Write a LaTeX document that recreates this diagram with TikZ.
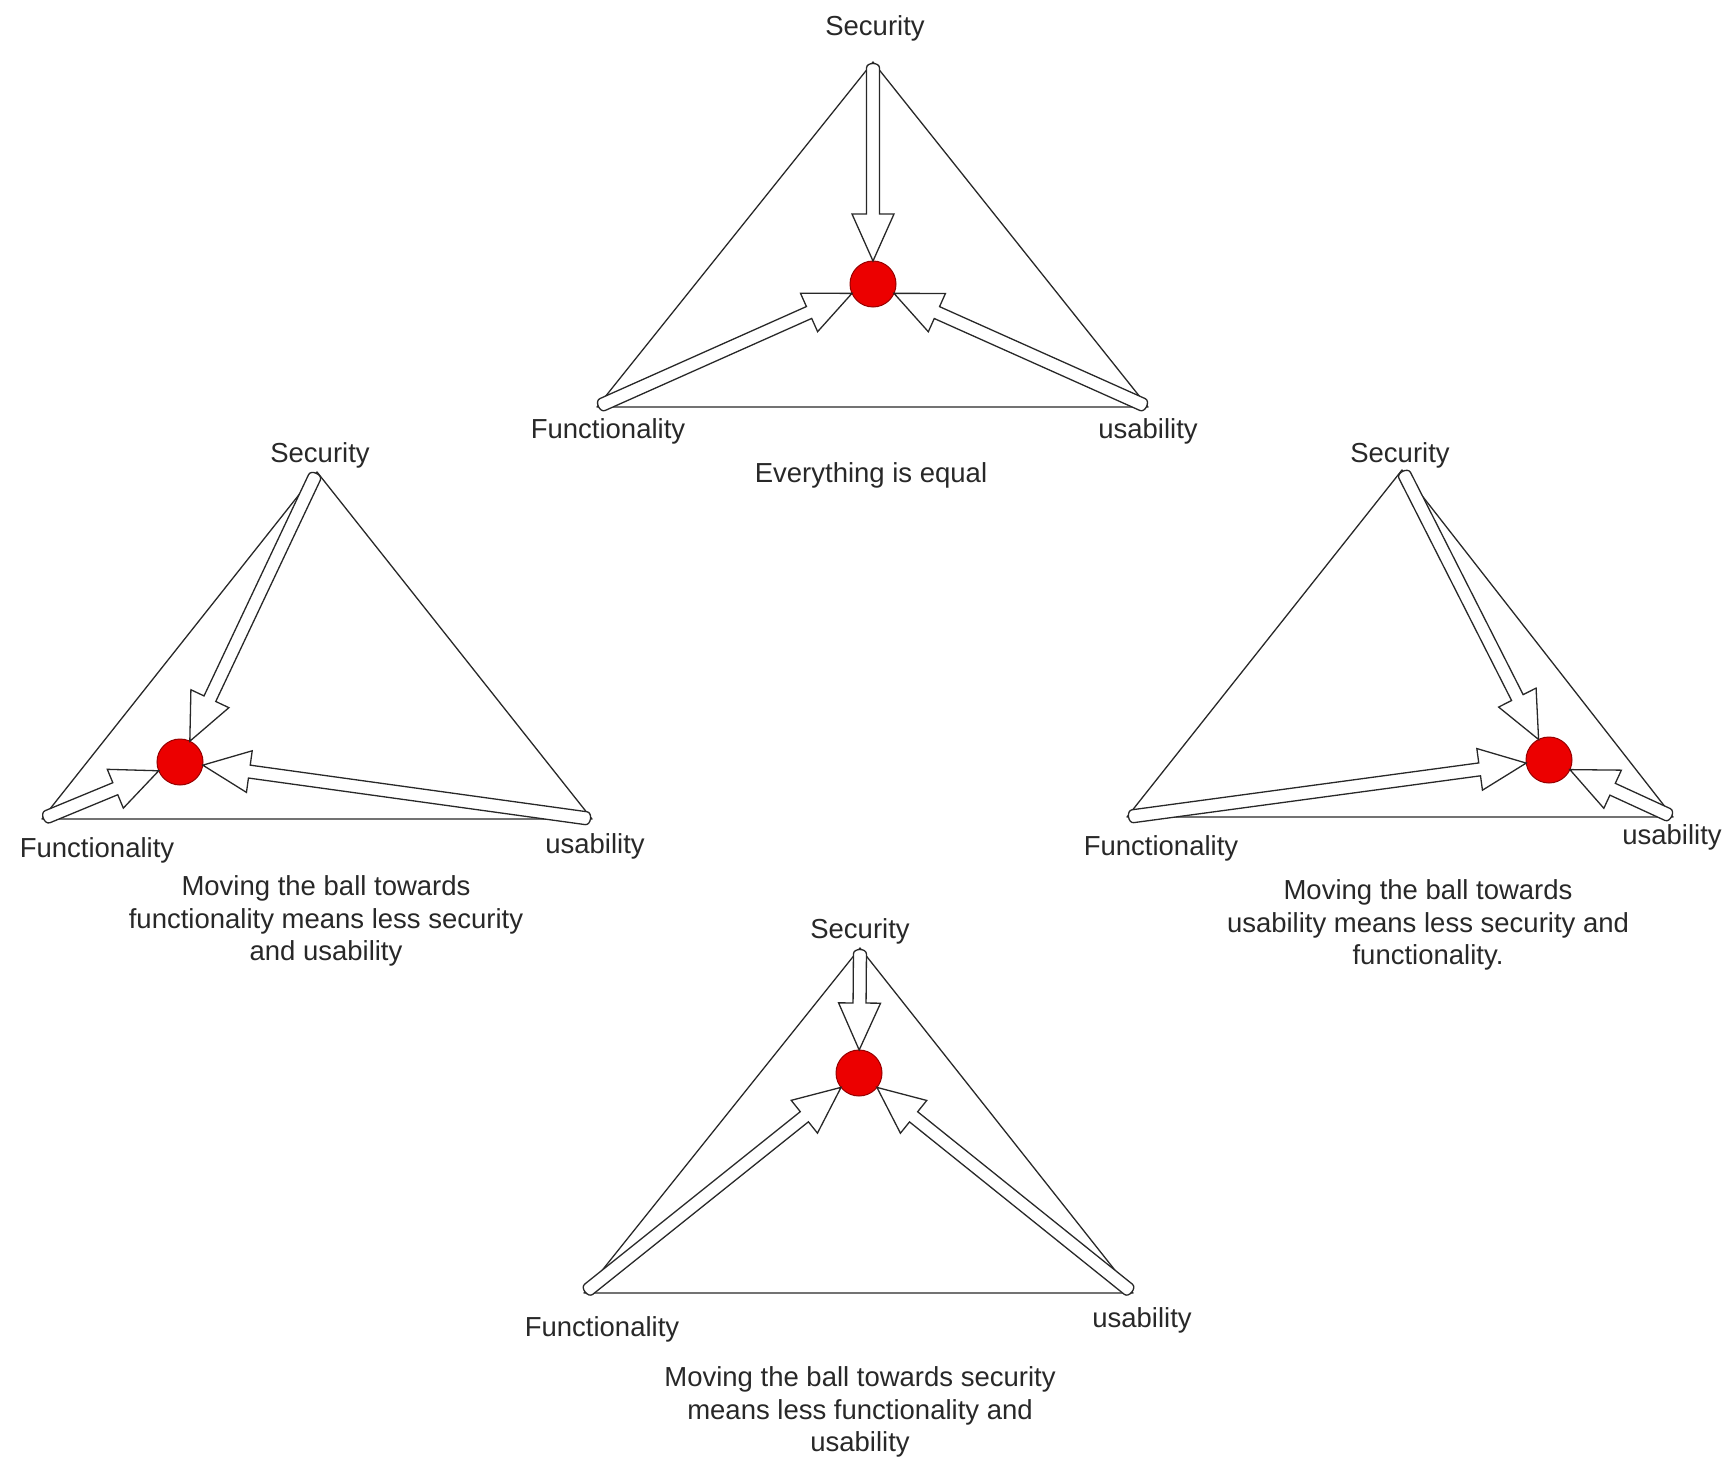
\documentclass[tikz,border=0pt]{standalone}
\usepackage{fontspec}
\setmainfont{Liberation Sans}
\usepackage{xcolor}
\usetikzlibrary{positioning,calc}

\definecolor{ballred}{RGB}{236,0,0}
\definecolor{balledge}{RGB}{150,0,0}
\definecolor{ink}{RGB}{40,40,40}

% hollow block arrow from a corner to the border of a ball
\newcommand{\flexarrow}[2]{%
  \coordinate (ftip) at ($(#2)!23pt!(#1)$);
  \coordinate (fneck) at ($(ftip)!47pt!(#1)$);
  \coordinate (ftail) at ($(#1)!6pt!(ftip)$);
  \draw[flexarrow] ($(ftail)!6.5pt!90:(ftip)$) -- ($(fneck)!6.5pt!-90:(#1)$)
    -- ($(fneck)!21pt!-90:(#1)$) -- (ftip) -- ($(fneck)!21pt!90:(#1)$)
    -- ($(fneck)!6.5pt!90:(#1)$) -- ($(ftail)!6.5pt!-90:(ftip)$)
    .. controls ($(#1)!6.5pt!-90:(ftip)$) and ($(#1)!6.5pt!90:(ftip)$) .. ($(ftail)!6.5pt!90:(ftip)$)
    -- cycle;}

\begin{document}
\begin{tikzpicture}[
  x=1pt, y=-1pt,
  font=\fontsize{27.5}{32.5}\selectfont,
  edge/.style={draw=ink, line width=1.3pt, line join=round},
  flexarrow/.style={draw=ink, fill=white, line width=1.3pt, line join=miter},
  ball/.style={circle, fill=ballred, draw=balledge, line width=1pt, minimum size=46pt, inner sep=0pt},
  lab/.style={text=ink, inner sep=0pt},
  caption/.style={lab, align=center},
]
\useasboundingbox (0,0) rectangle (1725,1458);

% Top: everything is equal
\coordinate (tS) at (873,62);
\coordinate (tF) at (597,407);
\coordinate (tU) at (1148,407);
\draw[edge] (tS) -- (tF) -- (tU) -- cycle;
\node[ball] (tball) at (873,284) {};
\flexarrow{tS}{tball}
\flexarrow{tF}{tball}
\flexarrow{tU}{tball}
\node[lab] (tSlab) at (875,28) {Security};
\node[lab] (tFlab) at (608,431) {Functionality};
\node[lab] (tUlab) at (1148,431) {usability};
\node[caption] (tcap) at (871,475) {Everything is equal};

% Left: towards functionality
\coordinate (lS) at (317,472);
\coordinate (lF) at (42,819);
\coordinate (lU) at (592,819);
\draw[edge] (lS) -- (lF) -- (lU) -- cycle;
\node[ball] (lball) at (180,762) {};
\flexarrow{lS}{lball}
\flexarrow{lF}{lball}
\flexarrow{lU}{lball}
\node[lab] (lSlab) at (320,455) {Security};
\node[lab] (lFlab) at (97,850) {Functionality};
\node[lab] (lUlab) at (595,846) {usability};
\node[caption] (lcap) at (326,921) {Moving the ball towards\\functionality means less security\\and usability};

% Right: towards usability
\coordinate (rS) at (1402,470);
\coordinate (rF) at (1127,817);
\coordinate (rU) at (1673,817);
\draw[edge] (rS) -- (rF) -- (rU) -- cycle;
\node[ball] (rball) at (1549,760) {};
\flexarrow{rS}{rball}
\flexarrow{rF}{rball}
\flexarrow{rU}{rball}
\node[lab] (rSlab) at (1400,455) {Security};
\node[lab] (rFlab) at (1161,848) {Functionality};
\node[lab] (rUlab) at (1672,837) {usability};
\node[caption] (rcap) at (1428,925) {Moving the ball towards\\usability means less security and\\functionality.};

% Bottom: towards security
\coordinate (bS) at (860,948);
\coordinate (bF) at (584,1293);
\coordinate (bU) at (1133,1293);
\draw[edge] (bS) -- (bF) -- (bU) -- cycle;
\node[ball] (bball) at (859,1073) {};
\flexarrow{bS}{bball}
\flexarrow{bF}{bball}
\flexarrow{bU}{bball}
\node[lab] (bSlab) at (860,931) {Security};
\node[lab] (bFlab) at (602,1329) {Functionality};
\node[lab] (bUlab) at (1142,1320) {usability};
\node[caption] (bcap) at (860,1412) {Moving the ball towards security\\means less functionality and\\usability};

\end{tikzpicture}
\end{document}
